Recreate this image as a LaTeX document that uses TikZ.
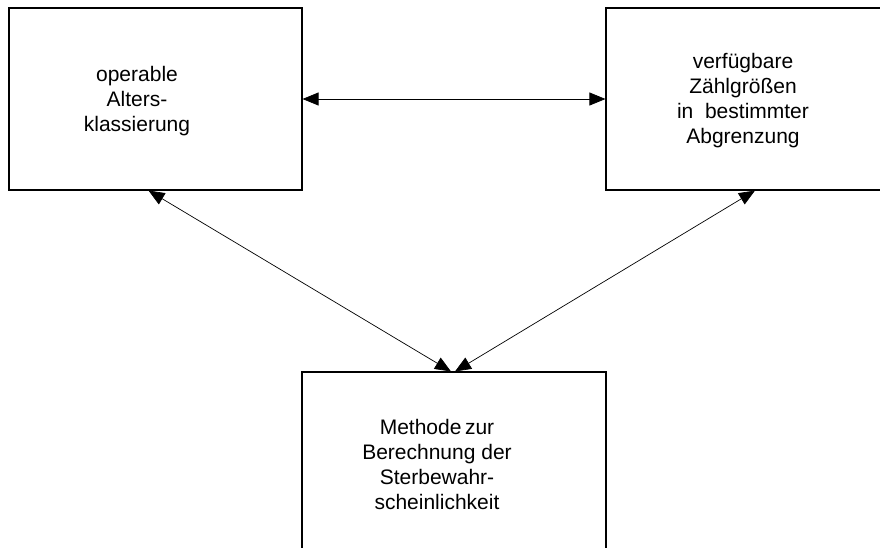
\documentclass[tikz,border=0pt]{standalone}
\usepackage{fontspec}
\setmainfont{Liberation Sans}
\usetikzlibrary{arrows.meta, positioning}

\begin{document}
\begin{tikzpicture}[x=1pt,y=-1pt]
\tikzset{box/.style = {draw, line width=1.1pt, inner sep=0pt},
         lbl/.style = {align=center, inner sep=0pt, font=\fontsize{21}{25}\selectfont},
         link/.style = {line width=0.7pt, {Triangle[length=16pt,width=13pt]}-{Triangle[length=16pt,width=13pt]}}}
\useasboundingbox (0,0) rectangle (880,547);
\clip (0,0) rectangle (880,547);
% boxes
\node[box, minimum width=293pt, minimum height=182pt] (alter) at (155.5,99) {};
\node[box, minimum width=276pt, minimum height=182pt] (zahl) at (744,99) {};
\node[box, minimum width=304pt, minimum height=188pt] (methode) at (454,466) {};
% texts
\node[lbl] (alterT) at (137,101) {operable\\Alters-\\klassierung};
\node[lbl] (zahlT) at (743,101) {verfügbare\\Zählgrößen\\in~ bestimmter\\Abgrenzung};
\node[lbl] (methodeT) at (437,464) {Methode\,zur\\Berechnung der\\Sterbewahr-\\scheinlichkeit};
% arrows
\draw[link] (alter.east) -- (zahl.west);
\draw[link] ([xshift=-7pt]alter.south) -- ([xshift=-3pt]methode.north);
\draw[link] ([xshift=11pt]zahl.south) -- ([xshift=1pt]methode.north);
\end{tikzpicture}
\end{document}
